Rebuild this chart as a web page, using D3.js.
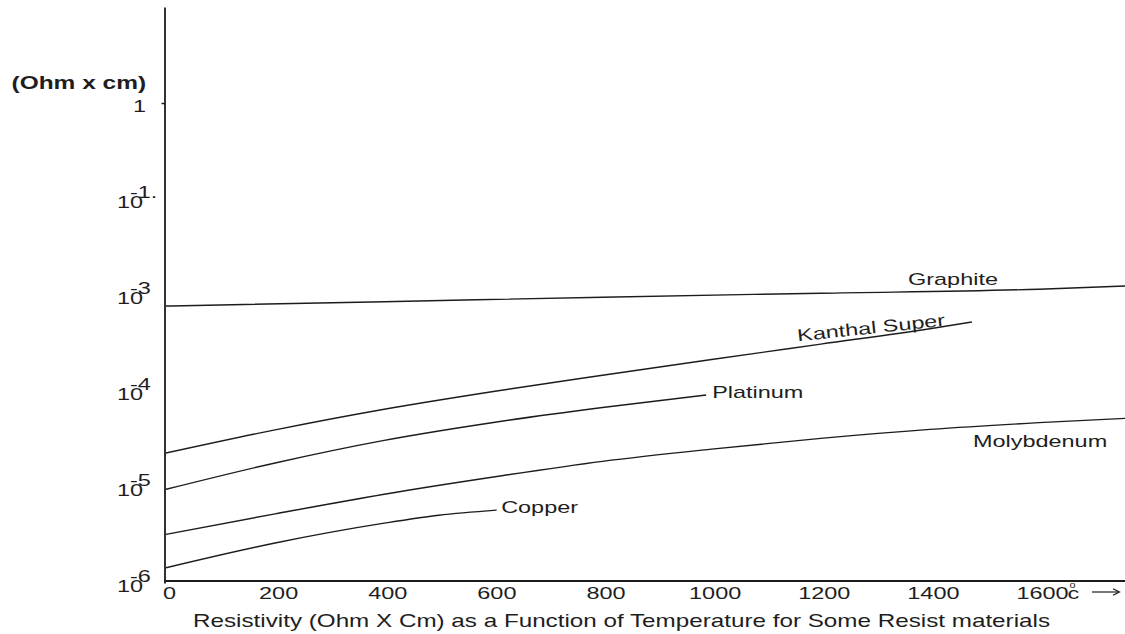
<!DOCTYPE html>
<html>
<head>
<meta charset="utf-8">
<script src="https://cdn.jsdelivr.net/npm/d3@7"></script>
<style>
  html, body { margin: 0; padding: 0; background: #ffffff; }
  svg { display: block; }
  text { font-family: "Liberation Sans", Arial, Helvetica, sans-serif; fill: #1e1e1e; }
</style>
</head>
<body>
<svg id="chart" width="1125" height="634"></svg>
<script>
// ---- Resistivity data (temperature in °C, resistivity in Ohm·cm) ----
const graphiteTemp = [0, 400, 800, 1200, 1600, 1760];
const graphiteRho  = [7.67e-4, 8.51e-4, 9.48e-4, 1.09e-3, 1.32e-3, 1.54e-3];

const kanthalTemp = [0, 200, 400, 600, 800, 1000, 1200, 1400, 1477];
const kanthalRho  = [2.26e-5, 3.94e-5, 6.46e-5, 9.89e-5, 1.46e-4, 2.13e-4, 3.08e-4, 4.45e-4, 5.24e-4];

const platinumTemp = [0, 200, 400, 600, 800, 990];
const platinumRho  = [9.46e-6, 1.78e-5, 3.06e-5, 4.70e-5, 6.73e-5, 9.08e-5];

const molybdenumTemp = [0, 200, 400, 600, 800, 1000, 1200, 1400, 1600, 1760];
const molybdenumRho  = [3.21e-6, 5.25e-6, 8.41e-6, 1.27e-5, 1.85e-5, 2.48e-5, 3.21e-5, 3.98e-5, 4.68e-5, 5.20e-5];

const copperTemp = [0, 200, 400, 500, 606];
const copperRho  = [1.44e-6, 2.61e-6, 4.20e-6, 5.08e-6, 5.75e-6];

const seriesNames = ["Graphite", "Kanthal Super", "Platinum", "Molybdenum", "Copper"];

// ---- Axis ticks ----
const xTickValues = [0, 200, 400, 600, 800, 1000, 1200, 1400, 1600];
const xTickLabels = ["0", "200", "400", "600", "800", "1000", "1200", "1400", "1600"];
const yTickExponents = [0, -1, -3, -4, -5, -6];
const yTickBase = ["1", "10", "10", "10", "10", "10"];
const yTickSup  = ["", "-1.", "-3", "-4", "-5", "-6"];

const yAxisTitle = "(Ohm x cm)";
const xAxisTitle = "Resistivity (Ohm X Cm) as a Function of Temperature for Some Resist materials";

// ---- Layout ----
const W = 1125, H = 634;
const SX = 1.38;              // horizontal stretch of the lettering
const INK = "#1c1c1c";

const svg = d3.select("#chart");
svg.append("rect").attr("width", W).attr("height", H).attr("fill", "#ffffff");

// Temperature axis
const x = d3.scaleLinear().domain([0, 1600]).range([166, 1039]);
// Decade axis: log10 of resistivity, with the printed decade steps
const y = d3.scaleLinear()
  .domain([-6, -5, -4, -3, -1, 0, 1])
  .range([583, 487, 391, 295, 199, 103, 7]);

const yOf = v => y(Math.log10(v));

function stretched(parent, tx, ty, str, opts = {}) {
  const rot = opts.rotate ? ` rotate(${opts.rotate})` : "";
  return parent.append("text")
    .attr("transform", `translate(${tx},${ty})${rot} scale(${opts.sx || SX},1)`)
    .attr("text-anchor", opts.anchor || "start")
    .style("font-size", (opts.size || 17) + "px")
    .style("font-weight", opts.weight || "normal")
    .text(str);
}

// ---- Y axis ----
const yAxisG = svg.append("g").attr("transform", "translate(164.5,0)")
  .call(d3.axisLeft(y).tickValues(yTickExponents).tickSize(0).tickFormat(""));
yAxisG.select(".domain").attr("stroke", INK).attr("stroke-width", 1.8);
yAxisG.selectAll(".tick").each(function (d) {
  const g = d3.select(this);
  const i = yTickExponents.indexOf(d);
  if (yTickSup[i] === "") {
    stretched(g, -18.5, 8, yTickBase[i], { anchor: "end", size: 17 });
    g.append("line").attr("x1", -3).attr("x2", 0).attr("stroke", INK).attr("stroke-width", 1.5);
  } else {
    stretched(g, -47.5, 8, yTickBase[i], { size: 17 });
    stretched(g, -34.5, -2, yTickSup[i], { size: 17 });
  }
});

// ---- X axis ----
const xAxisY = 581;
const xAxisG = svg.append("g").attr("transform", `translate(0,${xAxisY})`)
  .call(d3.axisBottom(x).tickValues(xTickValues).tickSize(0).tickFormat(""));
xAxisG.select(".domain").remove();
xAxisG.append("line")
  .attr("x1", 164.5).attr("x2", W)
  .attr("stroke", INK).attr("stroke-width", 1.8);
xAxisG.selectAll(".tick").each(function (d) {
  const g = d3.select(this);
  const i = xTickValues.indexOf(d);
  stretched(g, 3, 17.5, xTickLabels[i], { anchor: "middle", size: 17 });
  if (i === xTickValues.length - 1) {
    stretched(g, 28, 17.5, "c", { size: 17 });
    stretched(g, 30, 6.5, "o", { size: 9, sx: 1.2 });
  }
});
// arrow after the temperature unit
const arrowY = 11;
xAxisG.append("line")
  .attr("x1", x(1600) + 53).attr("x2", x(1600) + 80)
  .attr("y1", arrowY).attr("y2", arrowY)
  .attr("stroke", INK).attr("stroke-width", 1.2);
xAxisG.append("path")
  .attr("d", `M${x(1600) + 74},${arrowY - 3.2}L${x(1600) + 80.5},${arrowY}L${x(1600) + 74},${arrowY + 3.2}`)
  .attr("fill", "none").attr("stroke", INK).attr("stroke-width", 1.2);

// ---- Axis titles ----
stretched(svg, 11.5, 89, yAxisTitle, { size: 18, weight: "bold", sx: 1.36 });
stretched(svg, 193, 627, xAxisTitle, { size: 17.5, sx: 1.385 });

// ---- Curves ----
const series = [
  { name: seriesNames[0], temp: graphiteTemp,   rho: graphiteRho },
  { name: seriesNames[1], temp: kanthalTemp,    rho: kanthalRho },
  { name: seriesNames[2], temp: platinumTemp,   rho: platinumRho },
  { name: seriesNames[3], temp: molybdenumTemp, rho: molybdenumRho },
  { name: seriesNames[4], temp: copperTemp,     rho: copperRho }
].map(s => ({ ...s, points: s.temp.map((t, i) => ({ t, r: s.rho[i] })) }));

const line = d3.line()
  .x(d => x(d.t))
  .y(d => yOf(d.r))
  .curve(d3.curveMonotoneX);

svg.append("g").selectAll("path")
  .data(series)
  .join("path")
  .attr("d", s => line(s.points))
  .attr("fill", "none")
  .attr("stroke", INK)
  .attr("stroke-width", 1.4);

// curve value (pixel y) at a temperature, by interpolating in drawn space
function curveY(s, t) {
  const pts = s.points;
  const i = Math.max(1, Math.min(pts.length - 1, d3.bisector(d => d.t).left(pts, t)));
  const a = pts[i - 1], b = pts[i];
  const f = (t - a.t) / (b.t - a.t);
  return yOf(a.r) + f * (yOf(b.r) - yOf(a.r));
}

// label placement along each curve
const labelPlacement = {
  "Graphite":      { at: 1360, dx: 0, dy: -6.5, rotate: 0 },
  "Kanthal Super": { at: 1158, dx: 0, dy: -6,   rotate: -6 },
  "Platinum":      { at: 990,  dx: 6, dy: 2.5,  rotate: 0 },
  "Molybdenum":    { at: 1479, dx: 0, dy: 20.5, rotate: 0 },
  "Copper":        { at: 606,  dx: 4.5, dy: 2.7, rotate: 0 }
};

const labelG = svg.append("g");
series.forEach(s => {
  const p = labelPlacement[s.name];
  stretched(labelG, x(p.at) + p.dx, curveY(s, p.at) + p.dy, s.name,
    { size: 17, rotate: p.rotate || null });
});
</script>
</body>
</html>
